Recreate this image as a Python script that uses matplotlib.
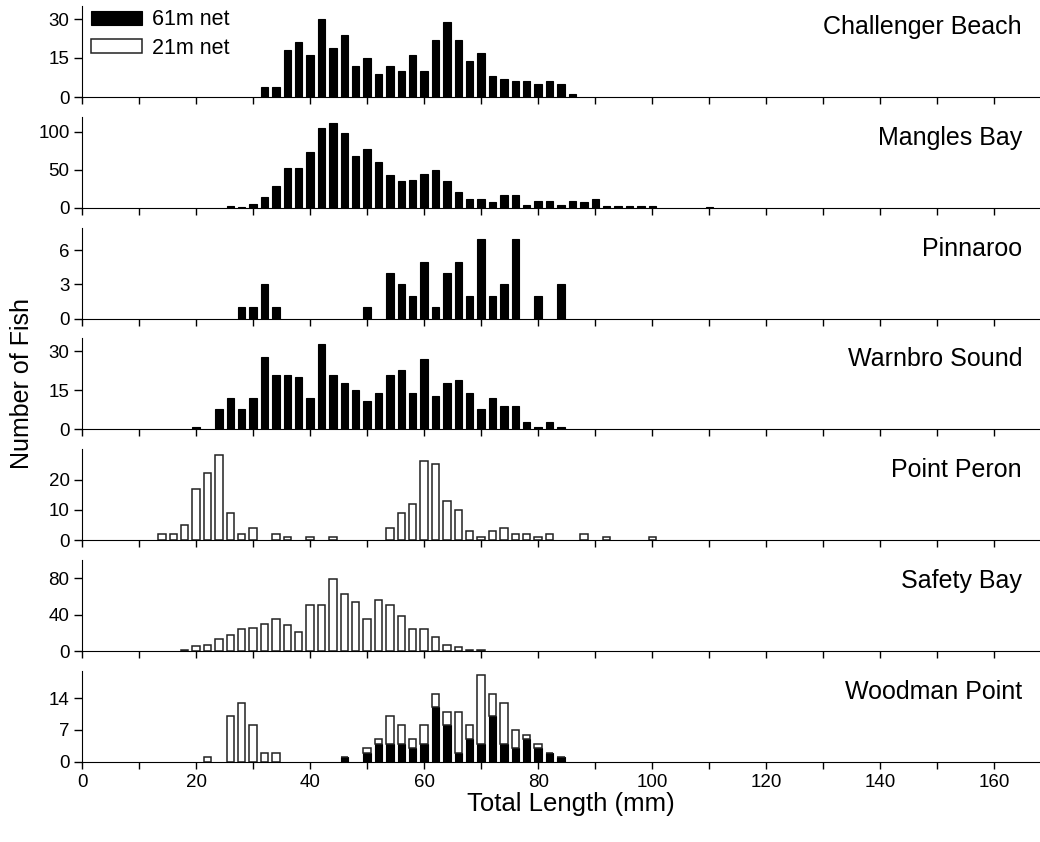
import matplotlib
matplotlib.use("Agg")
import matplotlib.pyplot as plt
import numpy as np

plt.rcParams['font.family'] = ['Liberation Sans', 'DejaVu Sans']

# length classes (mm) and counts per site
cb_x = [32, 34, 36, 38, 40, 42, 44, 46, 48, 50, 52, 54, 56, 58, 60, 62, 64, 66, 68, 70, 72, 74, 76, 78, 80, 82, 84, 86]
cb_61 = [4, 4, 18, 21, 16, 30, 19, 24, 12, 15, 9, 12, 10, 16, 10, 22, 29, 22, 14, 17, 8, 7, 6, 6, 5, 6, 5, 1]

mb_x = [26, 28, 30, 32, 34, 36, 38, 40, 42, 44, 46, 48, 50, 52, 54, 56, 58, 60, 62, 64, 66, 68, 70, 72, 74, 76,
        78, 80, 82, 84, 86, 88, 90, 92, 94, 96, 98, 100, 110]
mb_61 = [2, 1, 5, 14, 29, 52, 52, 73, 105, 112, 98, 68, 77, 60, 43, 35, 37, 44, 50, 35, 21, 12, 12, 8, 17, 17,
         4, 9, 9, 4, 9, 7, 12, 2, 2, 2, 2, 2, 1]

pi_x = [28, 30, 32, 34, 50, 54, 56, 58, 60, 62, 64, 66, 68, 70, 72, 74, 76, 80, 84]
pi_61 = [1, 1, 3, 1, 1, 4, 3, 2, 5, 1, 4, 5, 2, 7, 2, 3, 7, 2, 3]

ws_x = [20, 24, 26, 28, 30, 32, 34, 36, 38, 40, 42, 44, 46, 48, 50, 52, 54, 56, 58, 60, 62, 64, 66, 68, 70, 72,
        74, 76, 78, 80, 82, 84]
ws_61 = [1, 8, 12, 8, 12, 28, 21, 21, 20, 12, 33, 21, 18, 15, 11, 14, 21, 23, 14, 27, 13, 18, 19, 14, 8, 12,
         9, 9, 3, 1, 3, 1]

pp_x = [14, 16, 18, 20, 22, 24, 26, 28, 30, 34, 36, 40, 44, 54, 56, 58, 60, 62, 64, 66, 68, 70, 72, 74, 76, 78,
        80, 82, 88, 92, 100]
pp_21 = [2, 2, 5, 17, 22, 28, 9, 2, 4, 2, 1, 1, 1, 4, 9, 12, 26, 25, 13, 10, 3, 1, 3, 4, 2, 2,
         1, 2, 2, 1, 1]

sb_x = [18, 20, 22, 24, 26, 28, 30, 32, 34, 36, 38, 40, 42, 44, 46, 48, 50, 52, 54, 56, 58, 60, 62, 64, 66, 68, 70]
sb_21 = [1, 5, 7, 13, 18, 24, 25, 30, 35, 29, 21, 51, 51, 79, 63, 54, 35, 56, 51, 38, 24, 24, 15, 7, 4, 1, 1]

wp_x = [22, 26, 28, 30, 32, 34, 46, 50, 52, 54, 56, 58, 60, 62, 64, 66, 68, 70, 72, 74, 76, 78, 80, 82, 84]
wp_61 = [0, 0, 0, 0, 0, 0, 1, 2, 4, 4, 4, 3, 4, 12, 8, 2, 5, 4, 10, 4, 3, 5, 3, 2, 1]
wp_21 = [1, 10, 13, 8, 2, 2, 0, 1, 1, 6, 4, 2, 4, 3, 3, 9, 3, 15, 5, 9, 4, 1, 1, 0, 0]

sites = ["Challenger Beach", "Mangles Bay", "Pinnaroo", "Warnbro Sound",
         "Point Peron", "Safety Bay", "Woodman Point"]
ylims = [35, 120, 8, 35, 30, 100, 20]
yticks = [[0, 15, 30], [0, 50, 100], [0, 3, 6], [0, 15, 30], [0, 10, 20], [0, 40, 80], [0, 7, 14]]

panels = [
    (cb_x, cb_61, None),
    (mb_x, mb_61, None),
    (pi_x, pi_61, None),
    (ws_x, ws_61, None),
    (pp_x, None, pp_21),
    (sb_x, None, sb_21),
    (wp_x, wp_61, wp_21),
]

W, H = 1040, 842
fig = plt.figure(figsize=(W / 100, H / 100), dpi=100)

bw = 1.3
for i, (x, n61, n21) in enumerate(panels):
    y0 = 97 + 110.8 * i
    ax = fig.add_axes([82 / W, 1 - y0 / H, 958 / W, 91 / H])
    base = np.zeros(len(x))
    if n61 is not None:
        ax.bar(x, n61, width=bw, color='black', edgecolor='black', linewidth=0.8, label='61m net')
        base = np.array(n61, dtype=float)
    if n21 is not None:
        ax.bar(x, n21, width=bw, bottom=base, color='white', edgecolor='#222222', linewidth=1.1,
               label='21m net')
    ax.set_xlim(0, 168)
    ax.set_ylim(0, ylims[i])
    ax.set_yticks(yticks[i])
    ax.set_xticks(np.arange(0, 161, 20))
    ax.set_xticks(np.arange(0, 168, 10), minor=True)
    ax.spines['top'].set_visible(False)
    ax.spines['right'].set_visible(False)
    ax.tick_params(axis='both', which='both', direction='out', length=5, width=1, labelsize=13.5)
    ax.tick_params(axis='y', length=6, pad=3)
    if i < 6:
        ax.tick_params(axis='x', which='both', labelbottom=False)
    ax.text((1022 - 82) / 958, 0.77, sites[i], transform=ax.transAxes, ha='right', va='center',
            fontsize=18)
    if i == 0:
        ax.bar([0], [0], width=0, color='white', edgecolor='#222222', linewidth=1.1, label='21m net')
        ax.legend(loc='upper left', bbox_to_anchor=(9 / 958, 0.965), frameon=False, fontsize=15.5,
                  handlelength=2.35, handleheight=0.63, labelspacing=0.35, handletextpad=0.5,
                  borderaxespad=0, borderpad=0)
    if i == 6:
        ax.set_xlabel("Total Length (mm)", fontsize=18.5)
        ax.xaxis.set_label_coords(0.51, -0.33)

fig.text(22 / W, 1 - 383 / H, "Number of Fish", rotation=90, ha='center', va='center', fontsize=18)

plt.savefig("out.png", dpi=100)
